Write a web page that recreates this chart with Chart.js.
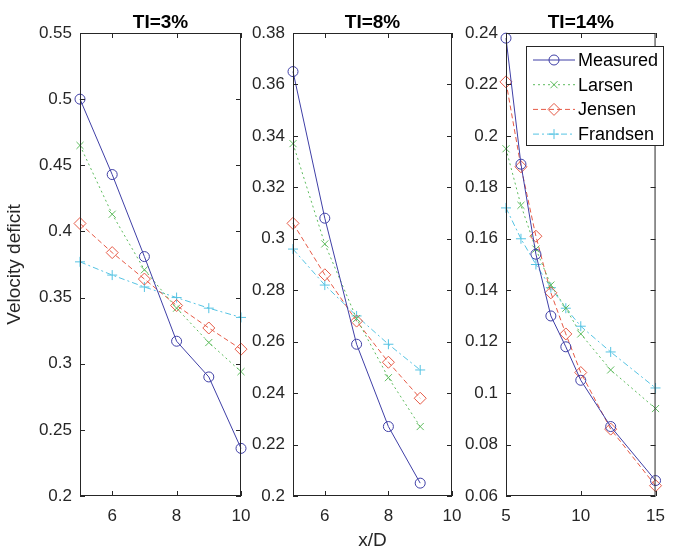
<!DOCTYPE html>
<html>
<head>
<meta charset="utf-8">
<script src="https://cdn.jsdelivr.net/npm/chart.js@4.4.0/dist/chart.umd.min.js"></script>
<style>
  html, body { margin: 0; padding: 0; background: #fff; }
  #wrap { position: relative; width: 675px; height: 550px; }
  #wrap canvas { position: absolute; left: 0; top: 0; }
</style>
</head>
<body>
<div id="wrap">
  <canvas id="ti3" width="675" height="550"></canvas>
  <canvas id="ti8" width="675" height="550"></canvas>
  <canvas id="ti14" width="675" height="550"></canvas>
</div>
<script>
// ---- data ----
const seriesNames = ["Measured", "Larsen", "Jensen", "Frandsen"];

const xTI3 = [5, 6, 7, 8, 9, 10];
const measuredTI3 = [0.500, 0.443, 0.381, 0.317, 0.290, 0.236];
const larsenTI3 = [0.465, 0.413, 0.371, 0.342, 0.316, 0.294];
const jensenTI3 = [0.406, 0.384, 0.364, 0.344, 0.327, 0.311];
const frandsenTI3 = [0.377, 0.367, 0.358, 0.350, 0.342, 0.335];

const xTI8 = [5, 6, 7, 8, 9];
const measuredTI8 = [0.365, 0.308, 0.259, 0.227, 0.205];
const larsenTI8 = [0.337, 0.298, 0.269, 0.246, 0.227];
const jensenTI8 = [0.306, 0.286, 0.268, 0.252, 0.238];
const frandsenTI8 = [0.296, 0.282, 0.270, 0.259, 0.249];

const xTI14 = [5, 6, 7, 8, 9, 10, 12, 15];
const measuredTI14 = [0.238, 0.189, 0.154, 0.130, 0.118, 0.105, 0.087, 0.066];
const larsenTI14 = [0.195, 0.173, 0.156, 0.142, 0.133, 0.123, 0.109, 0.094];
const jensenTI14 = [0.221, 0.188, 0.161, 0.139, 0.123, 0.108, 0.086, 0.064];
const frandsenTI14 = [0.172, 0.160, 0.150, 0.141, 0.133, 0.126, 0.116, 0.102];

const xTicksTI3 = [6, 8, 10];
const xTicksTI8 = [6, 8, 10];
const xTicksTI14 = [5, 10, 15];
const yTicksTI3 = [0.2, 0.25, 0.3, 0.35, 0.4, 0.45, 0.5, 0.55];
const yTicksTI8 = [0.2, 0.22, 0.24, 0.26, 0.28, 0.3, 0.32, 0.34, 0.36, 0.38];
const yTicksTI14 = [0.06, 0.08, 0.1, 0.12, 0.14, 0.16, 0.18, 0.2, 0.22, 0.24];

// ---- styles ----
const FONT = "'Liberation Sans', Arial, Helvetica, sans-serif";
const TEXT = "#262626";
const styles = [
  { color: "#3f3fa6", dash: [], pointStyle: "circle", radius: 5 },
  { color: "#5dbb5d", dash: [2, 3], pointStyle: "crossRot", radius: 5 },
  { color: "#e65a46", dash: [5, 3], pointStyle: "rectRot", radius: 6 },
  { color: "#55c3e3", dash: [6, 3, 2, 3], pointStyle: "cross", radius: 5 },
];

function makeDatasets(xs, lists) {
  return lists.map((ys, i) => ({
    label: seriesNames[i],
    data: xs.map((x, k) => ({ x: x, y: ys[k] })),
    borderColor: styles[i].color,
    borderWidth: 1,
    borderDash: styles[i].dash,
    pointStyle: styles[i].pointStyle,
    pointRadius: styles[i].radius,
    pointBorderColor: styles[i].color,
    pointBackgroundColor: "rgba(0,0,0,0)",
    pointBorderWidth: 1,
    tension: 0,
    clip: false,
  }));
}

// box + inward tick marks + panel title
const framePlugin = {
  id: "frame",
  afterDatasetsDraw(chart, args, opts) {
    const { ctx, chartArea: a } = chart;
    const x = chart.scales.x, y = chart.scales.y;
    ctx.save();
    ctx.strokeStyle = TEXT;
    ctx.lineWidth = 1;
    ctx.strokeRect(a.left + 0.5, a.top + 0.5, a.width - 1, a.height - 1);
    ctx.beginPath();
    x.ticks.forEach((t) => {
      const px = Math.round(x.getPixelForValue(t.value)) + 0.5;
      ctx.moveTo(px, a.bottom); ctx.lineTo(px, a.bottom - 5);
      ctx.moveTo(px, a.top); ctx.lineTo(px, a.top + 5);
    });
    y.ticks.forEach((t) => {
      const py = Math.round(y.getPixelForValue(t.value)) + 0.5;
      ctx.moveTo(a.left, py); ctx.lineTo(a.left + 5, py);
      ctx.moveTo(a.right, py); ctx.lineTo(a.right - 5, py);
    });
    ctx.stroke();
    ctx.fillStyle = "#000";
    ctx.font = "bold 19px " + FONT;
    ctx.textAlign = "center";
    ctx.textBaseline = "alphabetic";
    ctx.fillText(opts.title, (a.left + a.right) / 2, a.top - 5);
    ctx.restore();
  },
};

// MATLAB-style legend box inside the last panel
const boxLegend = {
  id: "boxLegend",
  afterDraw(chart, args, opts) {
    if (!opts.show) return;
    const { ctx, chartArea: a } = chart;
    const left = a.left + 20, top = a.top + 13, w = 137, h = 99;
    ctx.save();
    ctx.fillStyle = "#fff";
    ctx.fillRect(left, top, w, h);
    ctx.strokeStyle = TEXT;
    ctx.lineWidth = 1;
    ctx.strokeRect(left + 0.5, top + 0.5, w, h);
    ctx.font = "18px " + FONT;
    ctx.textBaseline = "middle";
    ctx.textAlign = "left";
    chart.data.datasets.forEach((ds, i) => {
      const cy = top + 14 + i * 24.7;
      ctx.strokeStyle = ds.borderColor;
      ctx.setLineDash(ds.borderDash);
      ctx.beginPath();
      ctx.moveTo(left + 7, cy);
      ctx.lineTo(left + 49, cy);
      ctx.stroke();
      ctx.setLineDash([]);
      ctx.fillStyle = "rgba(0,0,0,0)";
      Chart.helpers.drawPoint(ctx, {
        pointStyle: ds.pointStyle, radius: ds.pointRadius, borderWidth: 1, rotation: 0,
      }, left + 28, cy);
      ctx.fillStyle = "#000";
      ctx.fillText(ds.label, left + 52, cy + 1);
    });
    ctx.restore();
  },
};

const panels = [
  { id: "ti3", title: "TI=3%", xs: xTI3, lists: [measuredTI3, larsenTI3, jensenTI3, frandsenTI3],
    xMin: 5, xMax: 10, xTicks: xTicksTI3, yTicks: yTicksTI3, pad: { left: 0, right: 434 },
    yTitle: "Velocity deficit", xTitle: "", legend: false },
  { id: "ti8", title: "TI=8%", xs: xTI8, lists: [measuredTI8, larsenTI8, jensenTI8, frandsenTI8],
    xMin: 5, xMax: 10, xTicks: xTicksTI8, yTicks: yTicksTI8, pad: { left: 213, right: 223 },
    yTitle: "", xTitle: "x/D", legend: false },
  { id: "ti14", title: "TI=14%", xs: xTI14, lists: [measuredTI14, larsenTI14, jensenTI14, frandsenTI14],
    xMin: 5, xMax: 15, xTicks: xTicksTI14, yTicks: yTicksTI14, pad: { left: 426, right: 9 },
    yTitle: "", xTitle: "", legend: true },
];

panels.forEach((p) => {
  const yMin = p.yTicks[0], yMax = p.yTicks[p.yTicks.length - 1];
  new Chart(document.getElementById(p.id).getContext("2d"), {
    type: "line",
    data: { datasets: makeDatasets(p.xs, p.lists) },
    options: {
      responsive: false,
      animation: false,
      events: [],
      layout: { padding: { left: p.pad.left, right: p.pad.right, top: 33, bottom: 0 } },
      plugins: {
        legend: { display: false },
        tooltip: { enabled: false },
        frame: { title: p.title },
        boxLegend: { show: p.legend },
      },
      scales: {
        x: {
          type: "linear",
          min: p.xMin,
          max: p.xMax,
          afterBuildTicks: (s) => { s.ticks = p.xTicks.map((v) => ({ value: v })); },
          afterFit: (s) => { s.height = 54; },
          grid: { display: false, drawTicks: false },
          border: { display: false },
          ticks: { color: TEXT, font: { family: FONT, size: 17 }, padding: 10, maxRotation: 0 },
          title: { display: p.xTitle !== "", text: p.xTitle, color: TEXT,
                   font: { family: FONT, size: 19, lineHeight: 1 }, padding: { top: 0, bottom: 0 } },
        },
        y: {
          type: "linear",
          min: yMin,
          max: yMax,
          afterBuildTicks: (s) => { s.ticks = p.yTicks.map((v) => ({ value: v })); },
          afterFit: (s) => { s.width = 80; },
          grid: { display: false, drawTicks: false },
          border: { display: false },
          ticks: { color: TEXT, font: { family: FONT, size: 17 }, padding: 8,
                   callback: (v) => String(Number(v.toFixed(3))) },
          title: { display: p.yTitle !== "", text: p.yTitle, color: TEXT,
                   font: { family: FONT, size: 19, lineHeight: 1 }, padding: { top: 5, bottom: 0 } },
        },
      },
    },
    plugins: [framePlugin, boxLegend],
  });
});
</script>
</body>
</html>
